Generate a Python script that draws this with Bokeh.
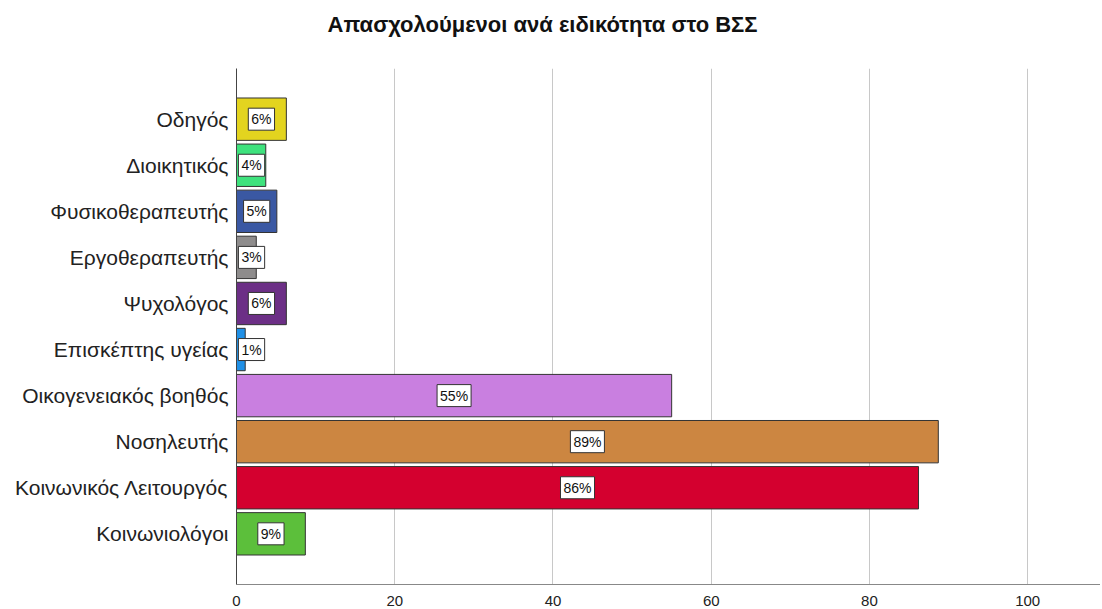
from bokeh.plotting import figure
from bokeh.models import ColumnDataSource, FactorRange, Range1d, FixedTicker, Title
from bokeh.core.properties import value
from bokeh.embed import file_html
from bokeh.resources import INLINE

categories = ["Οδηγός", "Διοικητικός", "Φυσικοθεραπευτής", "Εργοθεραπευτής", "Ψυχολόγος",
              "Επισκέπτης υγείας", "Οικογενειακός βοηθός", "Νοσηλευτής", "Κοινωνικός Λειτουργός",
              "Κοινωνιολόγοι"]
values = [6.3, 3.7, 5.1, 2.5, 6.3, 1.1, 55.0, 88.7, 86.2, 8.7]
labels = ["6%", "4%", "5%", "3%", "6%", "1%", "55%", "89%", "86%", "9%"]
colors = ["#e3d41f", "#3ee27d", "#3a58a3", "#8e8c8c", "#6c2f86", "#2090e6",
          "#c97fe0", "#cc8641", "#d4002f", "#5cbf3b"]
x_ticks = [0, 20, 40, 60, 80, 100]

FONT = "Liberation Sans"

label_x = [max(v / 2.0, 1.9) for v in values]
src = ColumnDataSource(dict(cat=categories, val=values, lab=labels, col=colors, lx=label_x))

p = figure(width=1100, height=608, output_backend="svg", toolbar_location=None,
           y_range=FactorRange(factors=list(reversed(categories)), range_padding=0.6,
                               range_padding_units="absolute"),
           x_range=Range1d(0, 109.2),
           min_border_left=236, min_border_right=0, min_border_top=68, min_border_bottom=20)

p.hbar(y="cat", left=0, right="val", height=0.92, source=src, fill_color="col",
       line_color="#333333", line_width=1)

p.text(x="lx", y="cat", text="lab", source=src, text_align="center",
       text_baseline="middle", text_font=value(FONT), text_font_size="14px",
       text_color="#111111", background_fill_color="white",
       border_line_color="#333333", border_line_width=1, padding=3)

spacer = Title(text=" ", text_font_size="22px", standoff=0)
p.add_layout(spacer, "above")

p.title.text = "Απασχολούμενοι ανά ειδικότητα στο ΒΣΣ"
p.title.text_font = FONT
p.title.text_font_size = "22px"
p.title.text_font_style = "bold"
p.title.text_color = "#111111"
p.title.align = "left"
p.title.offset = 91

p.outline_line_color = None
p.ygrid.grid_line_color = None
p.xgrid.grid_line_color = "#c8c8c8"
p.xgrid.ticker = FixedTicker(ticks=x_ticks)
p.xaxis.ticker = FixedTicker(ticks=x_ticks)
p.xaxis.axis_line_color = "#888888"
p.xaxis.major_tick_line_color = None
p.xaxis.minor_tick_line_color = None
p.xaxis.major_label_text_font = FONT
p.xaxis.major_label_text_font_size = "15px"
p.xaxis.major_label_text_color = "#222222"
p.xaxis.major_label_standoff = 5

p.yaxis.axis_line_color = "#444444"
p.yaxis.major_tick_line_color = None
p.yaxis.minor_tick_line_color = None
p.yaxis.major_label_text_font = FONT
p.yaxis.major_label_text_font_size = "21px"
p.yaxis.major_label_text_color = "#222222"
p.yaxis.major_label_standoff = 2

open("out.html", "w").write(file_html(p, INLINE))
